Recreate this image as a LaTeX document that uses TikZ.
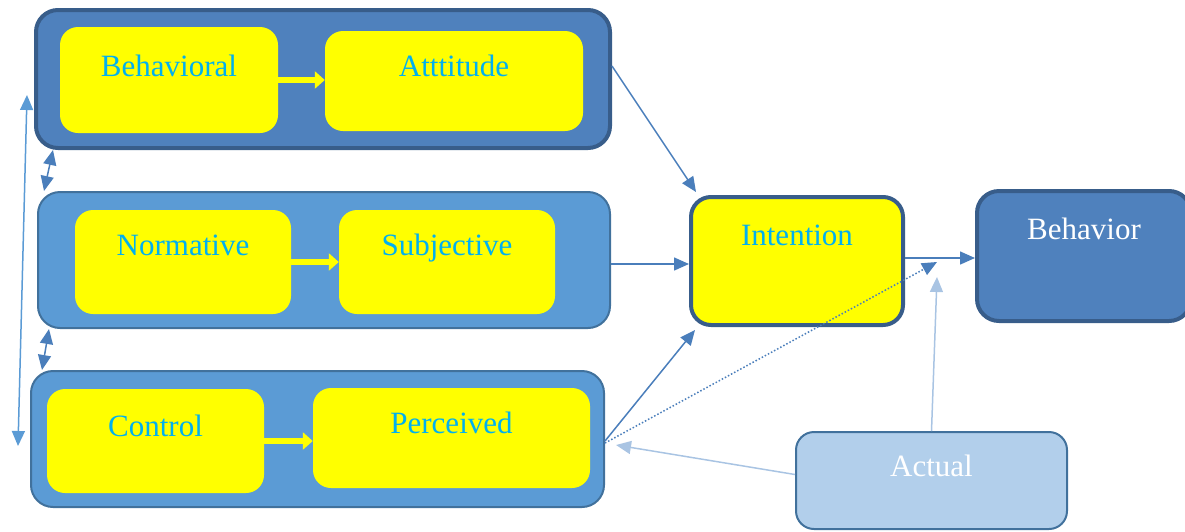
\documentclass[tikz,border=0pt]{standalone}
\usepackage{fontspec}
\setmainfont{Liberation Serif}
\usetikzlibrary{arrows.meta,positioning}
\definecolor{darkfill}{HTML}{4F81BD}
\definecolor{darkline}{HTML}{385D8A}
\definecolor{midfill}{HTML}{5B9BD5}
\definecolor{midline}{HTML}{41719C}
\definecolor{lightfill}{HTML}{B2CFEB}
\definecolor{cyantext}{HTML}{00B0F0}
\definecolor{arrowblue}{HTML}{4A7EBB}
\definecolor{arrowlight}{HTML}{A9C4E3}
\definecolor{ylw}{RGB}{255,255,0}
\tikzset{
    bigtri/.tip={Triangle[length=15pt,width=13pt]},
    grpbox/.style={
        draw=midline, line width=2pt,
        fill=midfill,
        rounded corners=22pt,
        inner sep=0pt
    },
    topgrp/.style={grpbox, draw=darkline, line width=4pt, fill=darkfill},
    ylwbox/.style={
        fill=ylw,
        rounded corners=18pt,
        inner sep=0pt
    },
    bigbox/.style={
        draw=darkline, line width=4pt,
        rounded corners=20pt,
        inner sep=0pt
    },
    txt/.style={anchor=base, text=cyantext, font={\fontsize{31pt}{36pt}\selectfont}},
    whitetxt/.style={txt, text=white},
    link/.style={draw=arrowblue, line width=1.5pt, -bigtri},
    both/.style={link, bigtri-bigtri},
    faintlink/.style={draw=arrowlight, line width=1.5pt, -bigtri},
    ylwarrow/.style={draw=ylw, line width=6pt,
        -{Triangle[length=10pt,width=17pt]}},
}
\begin{document}
\begin{tikzpicture}[x=1pt, y=-1pt]

\useasboundingbox (0,0) rectangle (1185,531);

% groups
\node [topgrp, minimum width=574pt, minimum height=138pt] (grp1) at (323,79) {};
\node [grpbox, minimum width=572pt, minimum height=136pt] (grp2) at (324,260) {};
\node [grpbox, minimum width=573pt, minimum height=136pt] (grp3) at (317.5,439) {};

% inner boxes
\node [ylwbox, minimum width=218pt, minimum height=106pt] (behav) at (169,80) {};
\node [ylwbox, minimum width=258pt, minimum height=100pt] (att) at (454,81) {};
\node [ylwbox, minimum width=216pt, minimum height=104pt] (norm) at (183,262) {};
\node [ylwbox, minimum width=216pt, minimum height=104pt] (subj) at (447,262) {};
\node [ylwbox, minimum width=217pt, minimum height=104pt] (ctrl) at (155.5,441) {};
\node [ylwbox, minimum width=277pt, minimum height=100pt] (perc) at (451.5,438) {};

% right side
\node [bigbox, fill=ylw, minimum width=212pt, minimum height=128pt] (intent) at (797,261) {};
\node [bigbox, fill=darkfill, rounded corners=22pt, minimum width=214pt, minimum height=130pt] (behavior) at (1084,256) {};
\node [grpbox, fill=lightfill, rounded corners=18pt, minimum width=271pt, minimum height=97pt] (actual) at (931.5,480.5) {};

% labels
\node [txt] (behav-t) at ([yshift=-50pt]behav.north) {Behavioral};
\node [txt] (att-t) at ([yshift=-46pt]att.north) {Atttitude};
\node [txt] (norm-t) at ([yshift=-46pt]norm.north) {Normative};
\node [txt] (subj-t) at ([yshift=-46pt]subj.north) {Subjective};
\node [txt] (ctrl-t) at ([yshift=-48pt]ctrl.north) {Control};
\node [txt] (perc-t) at ([yshift=-46pt]perc.north) {Perceived};
\node [txt] (intent-t) at ([yshift=-50pt]intent.north) {Intention};
\node [whitetxt] (behavior-t) at ([yshift=-50pt]behavior.north) {Behavior};
\node [whitetxt] (actual-t) at ([yshift=-45pt]actual.north) {Actual};

\foreach \a/\b in {behav/att, norm/subj, ctrl/perc}
  \draw [ylwarrow] (\a.east) -- (\a.east -| \b.west);

% links to intention
\coordinate (meet) at (937,262);
\draw [link] ([yshift=13pt]grp1.east) -- ([xshift=7pt,yshift=3pt]intent.north west);
\draw [link] ([yshift=-4pt]grp2.east) -- ([yshift=-3pt]intent.west);
\draw [link] ([yshift=-2pt]grp3.east) -- ([xshift=6pt,yshift=-3pt]intent.south west);
\draw [link, dotted] ([yshift=-4pt]grp3.east) -- (meet);
\draw [link] ([yshift=3pt]intent.east) -- ([yshift=3pt]intent.east -| behavior.west);
\draw [faintlink] (actual.north) -- ([yshift=-15pt]meet);
\draw [faintlink] ([yshift=6pt]actual.west) -- ([xshift=11pt,yshift=-6pt]grp3.east);

% left side
\coordinate (lft-top) at (27,95);
\coordinate (lft-bot) at (18,446);
\draw [both, draw=midfill] (lft-bot) -- (lft-top);
\draw [both] ([xshift=19pt]grp1.south west) -- ([xshift=7pt]grp2.north west);
\draw [both] ([xshift=12pt]grp2.south west) -- ([xshift=12pt]grp3.north west);

\end{tikzpicture}
\end{document}
